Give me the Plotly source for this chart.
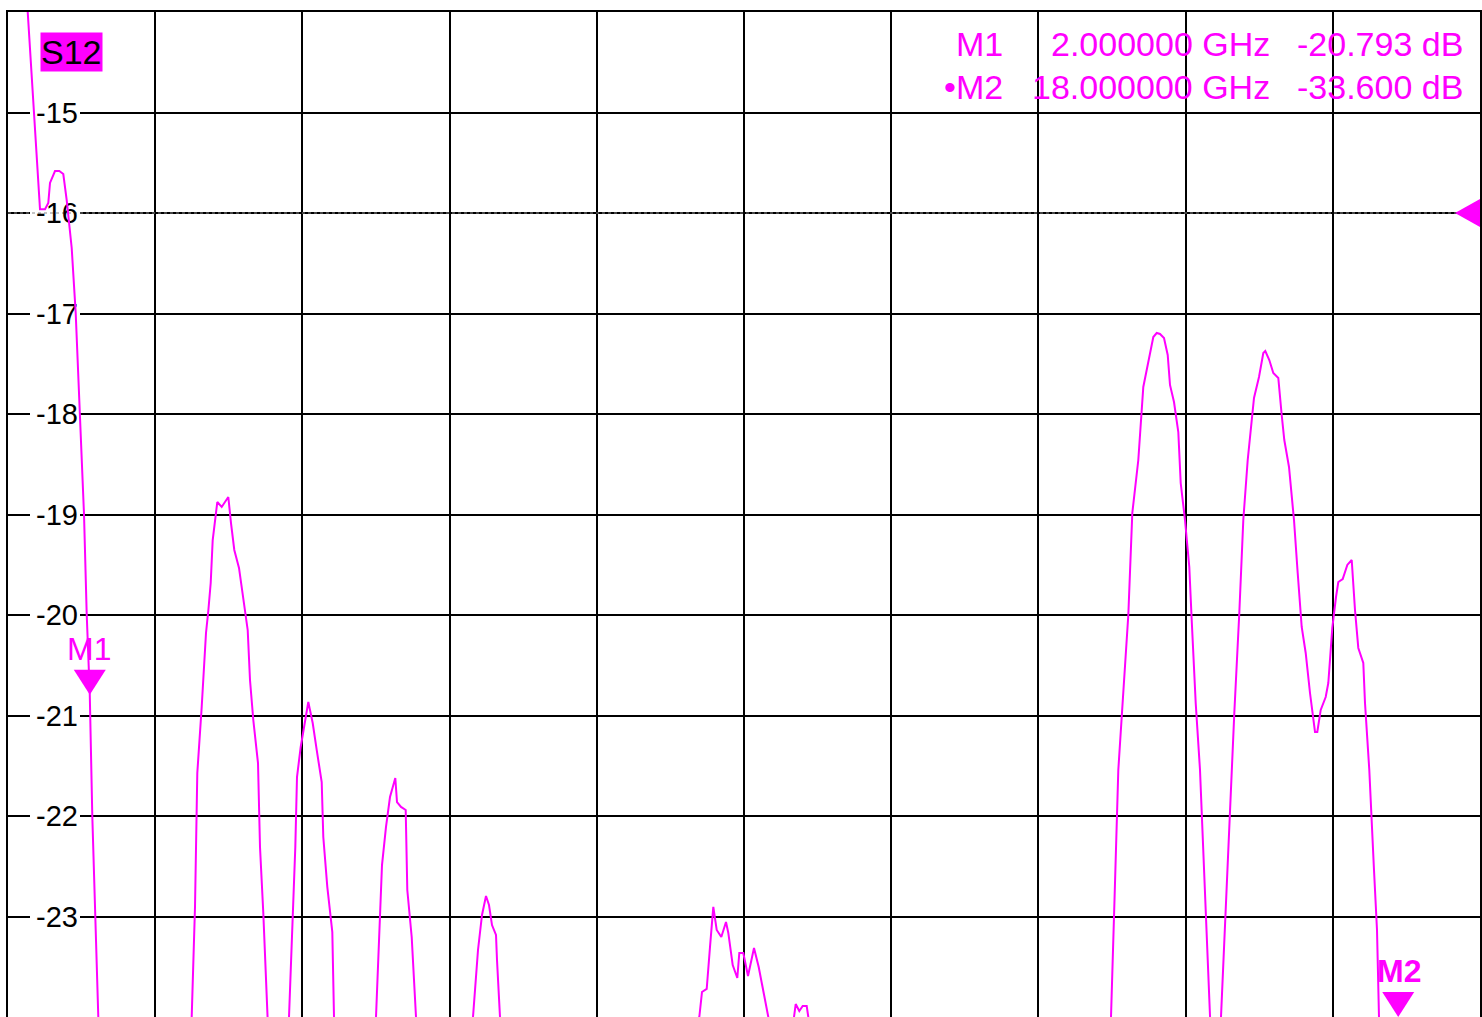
import plotly.graph_objects as go

# ---------------- data ----------------
freq_ghz = [
    1.000, 1.3913, 1.4524, 1.4928, 1.5136, 1.5747, 1.6273, 1.6762, 1.7178, 1.7789,
    1.8279, 1.8804, 1.9294, 1.9624, 2.0000, 2.0308, 2.0639, 2.1042,
    2.40, 2.80, 3.10,
    3.2463, 3.2867, 3.3148, 3.3686, 3.4212, 3.4493, 3.4787, 3.5031, 3.5594, 3.6132,
    3.6939, 3.7269, 3.7673, 3.8247, 3.8859, 3.9311, 3.9592, 3.9996, 4.0571, 4.0815,
    4.1219, 4.1757,
    4.30,
    4.4362, 4.4888, 4.5133, 4.5340, 4.5792, 4.6722, 4.7260, 4.7749, 4.8360, 4.8556,
    4.9045, 4.9657, 4.9864,
    5.20, 5.40,
    5.5000, 5.5489, 5.5734, 5.6223, 5.6712, 5.7360, 5.7568, 5.8057, 5.8632, 5.8828,
    5.9366, 5.9891,
    6.30, 6.55,
    6.6862, 6.7473, 6.7962, 6.8451, 6.8818, 6.9185, 6.9674, 6.9796, 7.0163,
    7.50, 8.20, 8.90,
    9.4534, 9.4864, 9.5439, 9.5844, 9.6247, 9.6663, 9.7225, 9.7799, 9.8081, 9.8619,
    9.9181, 9.9426, 9.9915, 10.0489, 10.1223, 10.1797, 10.2360, 10.2690, 10.2971,
    10.45,
    10.6114, 10.6322, 10.6762, 10.7178, 10.7667, 10.7863,
    11.20, 12.00, 12.80, 13.60, 14.20,
    14.4878, 14.5306, 14.5771, 14.6187, 14.6994, 14.7483, 14.8217, 14.8828, 14.9440,
    15.0051, 15.0467, 15.0870, 15.1359, 15.1812, 15.2093, 15.2582, 15.3108, 15.3401,
    15.3927, 15.4453, 15.4746, 15.5235, 15.5761, 15.6434, 15.7045,
    15.7718,
    15.8329, 15.8941, 15.9638, 15.9956, 16.0567, 16.1056, 16.1594, 16.2364, 16.2976,
    16.3502, 16.3746, 16.4235, 16.4724, 16.5336, 16.5751, 16.6069, 16.6644, 16.7255,
    16.7708, 16.8197, 16.8686, 16.9212, 16.9824, 17.0105, 17.0521, 17.1132, 17.1450,
    17.1939, 17.2392, 17.2673, 17.3211, 17.3774, 17.4312, 17.4715, 17.5119, 17.5730,
    17.5938, 17.6463, 17.7038, 17.7405, 17.7650,
    18.0, 18.5, 19.0,
]

s12_db = [
    -10.85, -15.963, -15.963, -15.900, -15.701, -15.582, -15.582, -15.612, -15.871, -16.348,
    -16.995, -17.990, -18.995, -19.990, -20.793, -22.000, -23.005, -24.000,
    -27.8, -29.5, -27.2,
    -24.0, -22.905, -21.572, -20.915, -20.179, -19.960, -19.682, -19.254, -18.876, -18.925,
    -18.826, -19.085, -19.353, -19.532, -19.920, -20.149, -20.647, -21.045, -21.473, -22.308,
    -22.965, -24.0,
    -26.5,
    -24.0, -22.965, -22.308, -21.612, -21.313, -20.866, -21.075, -21.343, -21.662, -22.209,
    -22.706, -23.154, -24.0,
    -27.0, -26.0,
    -24.0, -22.965, -22.488, -22.109, -21.811, -21.622, -21.861, -21.910, -21.940, -22.736,
    -23.204, -24.0,
    -27.5, -26.0,
    -24.0, -23.333, -22.985, -22.796, -22.886, -23.085, -23.184, -23.433, -24.0,
    -28.0, -29.0, -27.0,
    -24.0, -23.751, -23.721, -23.303, -22.905, -23.134, -23.204, -23.055, -23.164, -23.483,
    -23.612, -23.363, -23.363, -23.592, -23.313, -23.502, -23.731, -23.900, -24.0,
    -25.0,
    -24.0, -23.871, -23.940, -23.891, -23.891, -24.0,
    -26.5, -28.0, -30.0, -28.5, -26.0,
    -24.0, -22.836, -21.542, -21.015, -20.000, -18.985, -18.458, -17.731, -17.463,
    -17.234, -17.194, -17.204, -17.244, -17.413, -17.711, -17.881, -18.179, -18.687,
    -19.055, -19.522, -20.050, -20.876, -21.542, -22.836, -24.0,
    -25.453,
    -24.0, -22.836, -21.542, -20.975, -19.980, -19.055, -18.458, -17.841, -17.632,
    -17.393, -17.373, -17.463, -17.592, -17.642, -18.010, -18.259, -18.527, -19.055,
    -19.582, -20.119, -20.378, -20.776, -21.164, -21.164, -20.945, -20.816, -20.677,
    -20.129, -19.821, -19.672, -19.642, -19.502, -19.453, -19.950, -20.328, -20.478,
    -20.876, -21.542, -22.537, -23.134, -24.0,
    -33.6, -36.0, -35.0,
]

x_range = [1.0, 19.0]
x_div = 1.8
y_range = [-24.0, -14.0]
y_tick_values = [-15, -16, -17, -18, -19, -20, -21, -22, -23]
y_tick_labels = ["-15", "-16", "-17", "-18", "-19", "-20", "-21", "-22", "-23"]

trace_name = "S12"
marker_names = ["M1", "M2"]
marker_freqs = [2.0, 18.0]
marker_values = [-20.793, -33.6]
marker_freq_texts = ["2.000000 GHz", "18.000000 GHz"]
marker_value_texts = ["-20.793 dB", "-33.600 dB"]
ref_level = -16.0

# ---------------- styling ----------------
MAG = "#FF00FF"
FONT = "Liberation Sans, Arial, sans-serif"
W, H = 1482, 1017
ML, MR, MT, MB = 8, 2, 12, 0
PW = W - ML - MR
PH = H - MT - MB


def px_x(p):
    return (p - ML) / PW


def px_y(p):
    return (H - MB - p) / PH


def px_to_freq(p):
    return x_range[0] + (p - ML) / PW * (x_range[1] - x_range[0])


fig = go.Figure()

shapes = []
# white backgrounds behind the in-grid y labels (between grid and traces)
for val in y_tick_values:
    shapes.append(dict(type="rect", xref="x", yref="y", ysizemode="pixel", yanchor=val,
                       x0=px_to_freq(30), x1=px_to_freq(80), y0=-12, y1=12, layer="between",
                       fillcolor="white", line=dict(width=0)))

# y labels as a text trace so the data line is drawn above them
fig.add_trace(go.Scatter(
    x=[px_to_freq(36)] * len(y_tick_values), y=[v - 0.03 for v in y_tick_values],
    text=y_tick_labels, mode="text", textposition="middle right",
    textfont=dict(family=FONT, size=29, color="black"),
    hoverinfo="skip", showlegend=False, cliponaxis=False,
))

fig.add_trace(go.Scatter(
    x=freq_ghz, y=s12_db, mode="lines",
    line=dict(color=MAG, width=2), hoverinfo="skip", showlegend=False,
))

# reference-level line overlay (dotted look)
shapes.append(dict(type="line", xref="x", yref="y", x0=x_range[0], x1=x_range[1],
                   y0=ref_level, y1=ref_level, layer="between",
                   line=dict(color="#8a8a8a", width=1, dash="dot")))
# reference arrow at right edge
shapes.append(dict(type="path", xref="x", yref="y", xsizemode="pixel", ysizemode="pixel",
                   xanchor=x_range[1], yanchor=ref_level,
                   path="M 0,14 L -25,0 L 0,-14 Z", fillcolor=MAG, line=dict(width=0)))

annotations = []
for name, f, v in zip(marker_names, marker_freqs, marker_values):
    anchor_y = max(v, y_range[0])
    shapes.append(dict(type="path", xref="x", yref="y", xsizemode="pixel", ysizemode="pixel",
                       xanchor=f, yanchor=anchor_y,
                       path="M -16,25 L 16,25 L 0,0 Z", fillcolor=MAG, line=dict(width=0)))
    annotations.append(dict(x=f, y=anchor_y, xref="x", yref="y",
                            text=name if name == "M1" else "<b>" + name + "</b>",
                            showarrow=False, xanchor="center", yanchor="middle",
                            yshift=46, xshift=-1 if name == "M1" else 1,
                            font=dict(family=FONT, size=32, color=MAG)))

# trace label
annotations.append(dict(x=px_x(71), y=px_y(52), xref="paper", yref="paper", text=trace_name,
                        showarrow=False, xanchor="center", yanchor="middle",
                        bgcolor=MAG, borderpad=0,
                        font=dict(family=FONT, size=34, color="black")))

# marker readout table
row_y = [44, 87]
for i, (name, ft, vt) in enumerate(zip(marker_names, marker_freq_texts, marker_value_texts)):
    label = name if i == 0 else "\u2022" + name
    for txt, xr in ((label, 1005), (ft, 1272), (vt, 1465)):
        annotations.append(dict(x=px_x(xr), y=px_y(row_y[i]), xref="paper", yref="paper", text=txt,
                                showarrow=False, xanchor="right", yanchor="middle",
                                font=dict(family=FONT, size=34, color=MAG)))

axis_common = dict(showgrid=True, gridcolor="black", gridwidth=2, zeroline=False,
                   showticklabels=False, ticks="", showline=True, linecolor="black",
                   linewidth=2, mirror=True, fixedrange=True)

fig.update_layout(
    width=W, height=H,
    margin=dict(l=ML, r=MR, t=MT, b=MB, pad=0),
    paper_bgcolor="white", plot_bgcolor="white",
    xaxis=dict(range=x_range, tick0=x_range[0], dtick=x_div, **axis_common),
    yaxis=dict(range=y_range, tick0=y_range[0], dtick=1, **axis_common),
    shapes=shapes, annotations=annotations,
    font=dict(family=FONT), showlegend=False,
)

fig.write_html("out.html", config={"displayModeBar": False},
               post_script="document.body.style.margin='0';document.body.style.overflow='hidden';")
